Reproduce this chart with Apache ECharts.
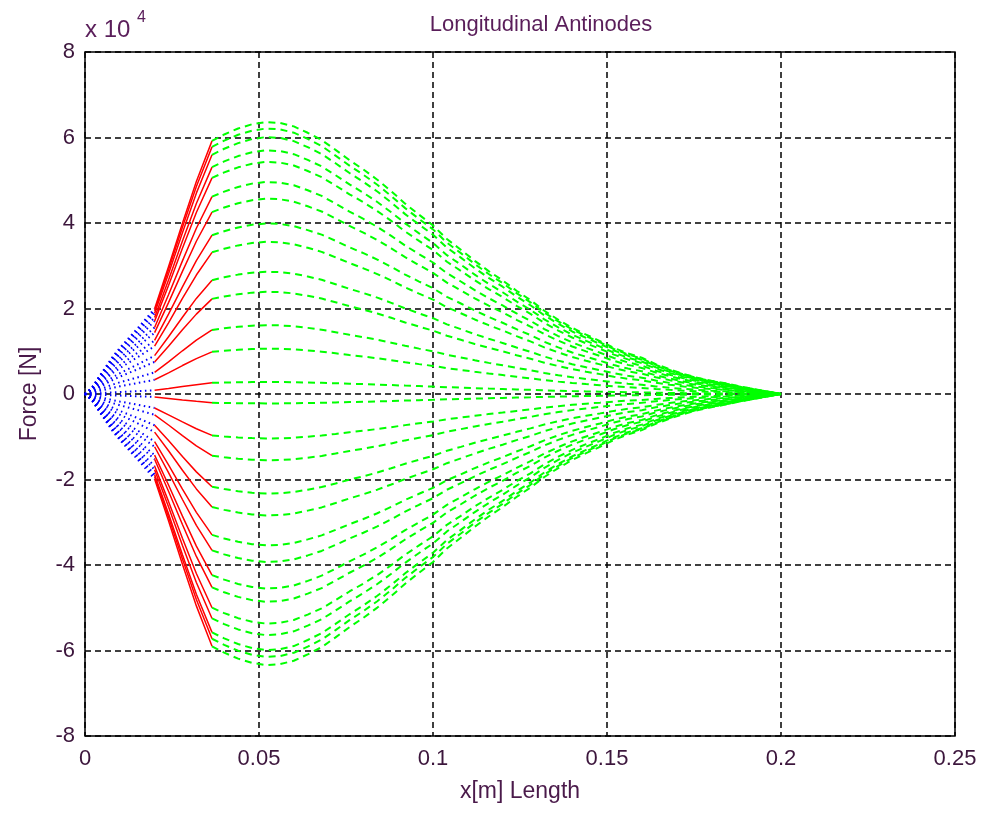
<!DOCTYPE html>
<html>
<head>
<meta charset="utf-8">
<title>Longitudinal Antinodes</title>
<script src="https://cdn.jsdelivr.net/npm/echarts@6/dist/echarts.min.js"></script>
<style>
  html, body { margin: 0; padding: 0; background: #ffffff; }
  #chart { width: 987px; height: 814px; }
</style>
</head>
<body>
<div id="chart"></div>
<script>
// Envelope of the force along the bar, one segment per section (N)
const bluePosX = [0, 0.002, 0.004, 0.006, 0.008, 0.010, 0.012, 0.014, 0.016, 0.018, 0.020];
const blueEnvelope = [0, 1500, 4000, 6400, 8800, 10800, 12600, 14400, 16200, 18100, 20000];

const redPosX = [0.020, 0.024, 0.028, 0.032, 0.0365];
const redEnvelope = [20000, 29800, 40000, 49800, 59300];

const greenPosX = [0.0365, 0.040, 0.044, 0.048, 0.052, 0.056, 0.060, 0.064, 0.068, 0.072,
  0.076, 0.080, 0.084, 0.088, 0.092, 0.096, 0.100, 0.104, 0.108, 0.112,
  0.116, 0.120, 0.124, 0.128, 0.132, 0.136, 0.140, 0.144, 0.148, 0.152,
  0.156, 0.160, 0.164, 0.168, 0.172, 0.176, 0.180, 0.184, 0.188, 0.192,
  0.196, 0.200];
const greenEnvelope = [59300, 60800, 62200, 63200, 63700, 63500, 62700, 61200, 59500, 57200,
  54800, 52600, 50200, 47500, 44600, 42000, 39500, 36300, 33800, 31200,
  28800, 26600, 24200, 22000, 19500, 17400, 15500, 13900, 12400, 10800,
  9500, 8500, 7000, 5800, 4700, 3800, 3100, 2500, 1800, 1200,
  600, 0];

// Peak force of each antinode snapshot (N)
const peakForce = [63600, 62100, 60100, 57000, 54300, 49600, 45700, 39900, 35600, 28600,
  23900, 16100, 10600, 2800, -2200, -10400, -15500, -23300, -28400, -35400,
  -39300, -45500, -48600, -53700, -56400, -59900, -61500, -63400];
const envelopePeak = 63700;

// Axis ticks
const xTicks = [0, 0.05, 0.1, 0.15, 0.2, 0.25];
const yTicks = [-8, -6, -4, -2, 0, 2, 4, 6, 8];

const FONT = '"Liberation Sans", Arial, sans-serif';
const TEXT_COLOR = '#3c163c';
const LABEL_COLOR = '#4a1a4a';

function segment(posX, envelope, ratio) {
  return posX.map((x, i) => [x, envelope[i] * ratio]);
}

const series = [];
peakForce.forEach((pk) => {
  const r = pk / envelopePeak;
  series.push({
    type: 'line', silent: true, symbol: 'none', z: 3,
    data: segment(bluePosX, blueEnvelope, r),
    lineStyle: { color: '#0000ff', width: 2, type: [1.5, 3.5] }
  });
  series.push({
    type: 'line', silent: true, symbol: 'none', z: 3,
    data: segment(redPosX, redEnvelope, r),
    lineStyle: { color: '#ff0000', width: 1.5, type: 'solid' }
  });
  series.push({
    type: 'line', silent: true, symbol: 'none', z: 3,
    data: segment(greenPosX, greenEnvelope, r),
    lineStyle: { color: '#00ff00', width: 2, type: [7, 5] }
  });
});

const chart = echarts.init(document.getElementById('chart'), null, { renderer: 'canvas' });
chart.setOption({
  animation: false,
  backgroundColor: '#ffffff',
  title: {
    text: 'Longitudinal Antinodes',
    left: 536, top: 9, textAlign: 'center',
    textStyle: { fontFamily: FONT, fontSize: 22, fontWeight: 'normal', color: '#5a1e5a' }
  },
  grid: {
    left: 85, right: 32, top: 52, bottom: 78,
    show: true, borderColor: '#000', borderWidth: 1.5, backgroundColor: '#ffffff'
  },
  xAxis: {
    type: 'value',
    min: xTicks[0], max: xTicks[xTicks.length - 1], interval: 0.05,
    name: 'x[m] Length', nameLocation: 'middle', nameGap: 44,
    nameTextStyle: { fontFamily: FONT, fontSize: 23, color: LABEL_COLOR },
    axisLine: { show: false, onZero: false },
    axisTick: { show: false },
    axisLabel: {
      margin: 12, fontFamily: FONT, fontSize: 22, color: TEXT_COLOR,
      formatter: (v) => String(parseFloat(v.toFixed(2)))
    },
    splitLine: { show: true, lineStyle: { color: '#000', width: 1.5, type: [6, 4] } }
  },
  yAxis: {
    type: 'value',
    min: yTicks[0] * 1e4, max: yTicks[yTicks.length - 1] * 1e4, interval: 20000,
    name: 'Force [N]', nameLocation: 'middle', nameGap: 44, nameRotate: 90,
    nameTextStyle: { fontFamily: FONT, fontSize: 23, color: LABEL_COLOR },
    axisLine: { show: false, onZero: false },
    axisTick: { show: false },
    axisLabel: {
      margin: 10, fontFamily: FONT, fontSize: 22, color: TEXT_COLOR,
      formatter: (v) => String(Math.round(v / 1e4))
    },
    splitLine: { show: true, lineStyle: { color: '#000', width: 1.5, type: [6, 4] } }
  },
  graphic: [
    { type: 'text', x: 85, y: 18, style: { text: 'x 10', font: '24px ' + FONT, fill: '#5a1e5a' } },
    { type: 'text', x: 137, y: 10, style: { text: '4', font: '16px ' + FONT, fill: '#5a1e5a' } }
  ],
  series: series
});
</script>
</body>
</html>
